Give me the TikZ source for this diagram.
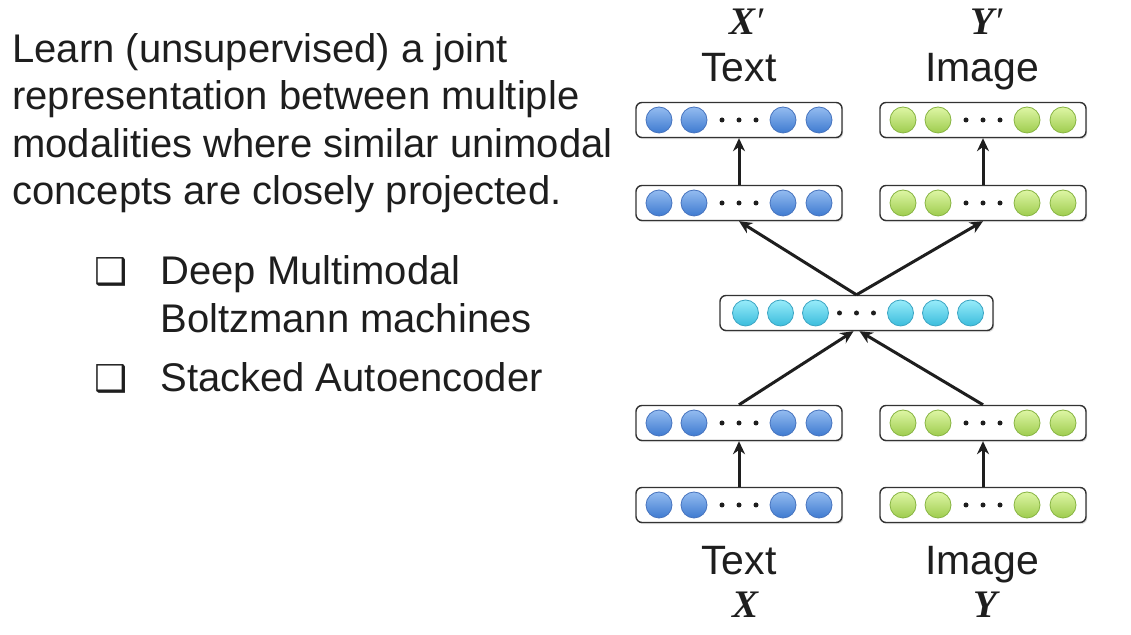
\documentclass[tikz,border=0pt]{standalone}
\usepackage{fontspec}
\setmainfont{Liberation Sans}
\newfontfamily\varfont{Liberation Serif}
\newfontfamily\dingfont{DejaVu Sans}
\usetikzlibrary{arrows.meta,shadows}

\definecolor{txttop}{RGB}{148,188,240}
\definecolor{txtbot}{RGB}{62,122,208}
\definecolor{txtrim}{RGB}{70,115,190}
\definecolor{imgtop}{RGB}{222,246,165}
\definecolor{imgbot}{RGB}{158,204,78}
\definecolor{imgrim}{RGB}{135,180,65}
\definecolor{jnttop}{RGB}{152,236,250}
\definecolor{jntbot}{RGB}{58,188,220}
\definecolor{jntrim}{RGB}{60,165,195}
\definecolor{ink}{RGB}{30,30,30}

\tikzset{
  layer/.style={draw=black!80, fill=white, rounded corners=3pt, line width=0.7pt,
    minimum height=17.5pt, inner sep=0pt,
    drop shadow={opacity=0.25, shadow xshift=0.6pt, shadow yshift=-0.8pt}},
  unit/.style={circle, draw=#1rim, top color=#1top, bottom color=#1bot,
    minimum size=13pt, inner sep=0pt, line width=0.4pt},
  link/.style={-{Stealth[length=6.5pt,width=6pt]}, line width=1.5pt, ink},
  lbl/.style={text=ink, font=\fontsize{20.5}{24}\selectfont, inner sep=0pt},
  var/.style={text=ink, font=\varfont\bfseries\itshape\fontsize{19.5}{22}\selectfont, inner sep=0pt},
  body/.style={text=ink, font=\fontsize{20}{24}\selectfont, inner sep=0pt, anchor=base west},
  tick/.style={body, font=\dingfont\fontsize{18.5}{24}\selectfont},
}

% circles and dots inside a layer
\newcommand{\fillunits}[3]{%
  \foreach \dx in {#3}
    \node[unit=#2] at ([xshift=\dx pt]#1.center) {};
  \foreach \dx in {-8.5,0,8.5}
    \fill[ink] ([xshift=\dx pt]#1.center) circle (1.25pt);
}

\begin{document}
\begin{tikzpicture}[x=0.5pt,y=-0.5pt]
\useasboundingbox (0,0) rectangle (1131,635);

% text on the left
\node[body] (l1) at (12,63) {Learn (unsupervised) a joint};
\node[body] (l2) at (12,110) {representation between multiple};
\node[body] (l3) at (12,158) {modalities where similar unimodal};
\node[body] (l4) at (12,205) {concepts are closely projected.};
\node[tick] (b1) at (94,285) {❑};
\node[body] (i1) at (160,285) {Deep Multimodal};
\node[body] (i1b) at (160,333) {Boltzmann machines};
\node[tick] (b2) at (94,392) {❑};
\node[body] (i2) at (160,392) {Stacked Autoencoder};

% layers
\node[layer,minimum width=103pt] (textOut) at (739,120) {};
\node[layer,minimum width=103pt] (imageOut) at (983,120) {};
\node[layer,minimum width=103pt] (textDec) at (739,203) {};
\node[layer,minimum width=103pt] (imageDec) at (983,203) {};
\node[layer,minimum width=136.5pt] (shared) at (856.5,313) {};
\node[layer,minimum width=103pt] (textEnc) at (739,423) {};
\node[layer,minimum width=103pt] (imageEnc) at (983,423) {};
\node[layer,minimum width=103pt] (textIn) at (739,505) {};
\node[layer,minimum width=103pt] (imageIn) at (983,505) {};

\fillunits{textOut}{txt}{-40,-22.5,22,40}
\fillunits{textDec}{txt}{-40,-22.5,22,40}
\fillunits{textEnc}{txt}{-40,-22.5,22,40}
\fillunits{textIn}{txt}{-40,-22.5,22,40}
\fillunits{imageOut}{img}{-40,-22.5,22,40}
\fillunits{imageDec}{img}{-40,-22.5,22,40}
\fillunits{imageEnc}{img}{-40,-22.5,22,40}
\fillunits{imageIn}{img}{-40,-22.5,22,40}
\fillunits{shared}{jnt}{-55.5,-38,-20.5,22,39.5,57}

% connections
\draw[link] (textIn.north) -- (textEnc.south);
\draw[link] (imageIn.north) -- (imageEnc.south);
\draw[link] (textEnc.north) -- ([xshift=-1.5pt]shared.south);
\draw[link] (imageEnc.north) -- ([xshift=1.5pt]shared.south);
\draw[link] (shared.north) -- (textDec.south);
\draw[link] (shared.north) -- (imageDec.south);
\draw[link] (textDec.north) -- (textOut.south);
\draw[link] (imageDec.north) -- (imageOut.south);

% labels
\node[lbl,anchor=base] (textOutLbl) at (739,82) {Text};
\node[lbl,anchor=base] (imageOutLbl) at (982,82) {Image};
\node[var,anchor=base] (textOutVar) at (748,35) {X\kern1pt{\mdseries\upshape ′}};
\node[var,anchor=base] (imageOutVar) at (988,35) {Y\kern1pt{\mdseries\upshape ′}};
\node[lbl,anchor=base] (textInLbl) at (739,575) {Text};
\node[lbl,anchor=base] (imageInLbl) at (982,575) {Image};
\node[var,anchor=base] (textInVar) at (746,618) {X};
\node[var,anchor=base] (imageInVar) at (985,618) {Y};
\end{tikzpicture}
\end{document}
